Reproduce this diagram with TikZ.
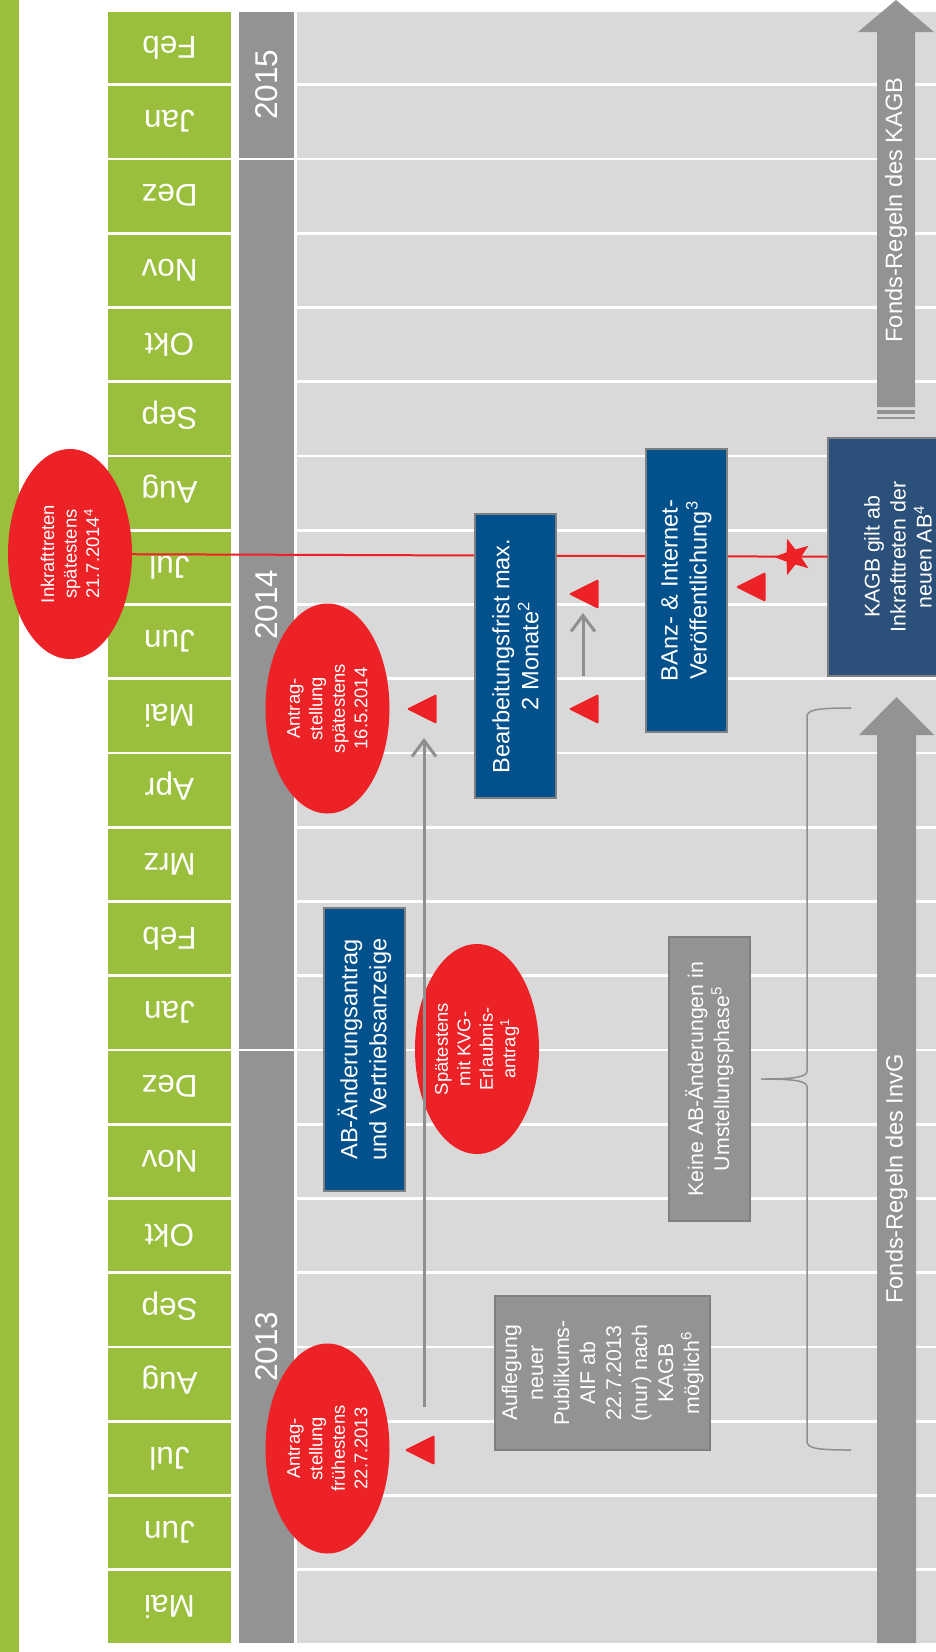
\documentclass[tikz,border=0pt]{standalone}
\usepackage{fontspec}
\setmainfont{Liberation Sans}
\usetikzlibrary{arrows.meta}
\usetikzlibrary{shapes.geometric}
\usepackage{xcolor}
\definecolor{gruen}{HTML}{9ABF3D}
\definecolor{jahrgrau}{HTML}{939393}
\definecolor{zeile}{HTML}{D9D9D9}
\definecolor{rot}{HTML}{EC2227}
\definecolor{blau}{HTML}{02508C}
\definecolor{kagbblau}{HTML}{2B507A}
\definecolor{rahmen}{HTML}{7F7F7F}
\definecolor{linie}{HTML}{8F8F8F}
\newcommand\smonat{\fontsize{31.5}{38}\selectfont}
\newcommand\sgross{\fontsize{23.6}{29}\selectfont}
\newcommand\sklein{\fontsize{21.3}{26}\selectfont}
\newcommand\soval{\fontsize{18.4}{22.5}\selectfont}

\begin{document}
\begin{tikzpicture}[x=1pt, y=-1pt,
 monat/.style={fill=gruen, text=white, rotate=180, minimum width=123pt, minimum height=71.5pt, inner sep=0pt, font=\smonat, text height=22.5pt, text depth=0pt},
 jahr/.style={fill=jahrgrau, text=white, rotate=90, minimum height=55pt, inner sep=0pt, font=\smonat, text height=22.5pt, text depth=0pt},
 oval/.style={ellipse, fill=rot, text=white, rotate=90, minimum width=210pt, minimum height=124pt, inner sep=0pt, align=center, font=\soval},
 kasten/.style={rectangle, draw=rahmen, line width=1.5pt, rotate=90, align=center, text=white, inner sep=0pt},
 dreieck/.style={isosceles triangle, isosceles triangle stretches, shape border rotate=180, minimum width=30pt, minimum height=30pt, inner sep=0pt, fill=rot, rounded corners=1.5pt, anchor=apex},
 stern/.style={star, star points=5, star point ratio=2.4, minimum size=38pt, inner sep=0pt, fill=rot, rotate=90},
 pfeil/.style={draw=linie, line width=3pt, -{Straight Barb[length=16pt,width=24pt]}},
 pfeiltext/.style={rotate=90, text=white, font=\sgross}]
\useasboundingbox (0,0) rectangle (936,1652);
\clip (0,0) rectangle (936,1652);
\fill[gruen] (0,0) rectangle (19,1652);
\foreach \i in {0,...,21}
 \fill[zeile] (297,{1642.5-74.24*\i}) rectangle (936,{1571-74.24*\i});
\foreach \m [count=\i from 0] in {Mai,Jun,Jul,Aug,Sep,Okt,Nov,Dez,Jan,Feb,Mrz,Apr,Mai,Jun,Jul,Aug,Sep,Okt,Nov,Dez,Jan,Feb}
 \node[monat] (m\i) at (169.5,{1606.75-74.24*\i}) {\m};
\foreach \jahr/\a/\b in {2013/0/7,2014/8/19,2015/20/21}
 \node[jahr, minimum width={74.24*(\b-\a)+71.5}] (j\jahr) at (266.5,{1606.75-37.12*(\a+\b)}) {\jahr};

\node[oval] (ink) at (70,554) {Inkrafttreten\\spätestens\\21.7.2014\textsuperscript{4}};
\node[kasten, fill=kagbblau, minimum width=238pt, minimum height=140pt, font=\sklein] (kagb) at (898,557) {KAGB gilt ab\\Inkrafttreten der\\neuen AB\textsuperscript{4}};
\draw[rot, line width=2pt] (ink) -- (kagb);

\node[kasten, fill=blau, minimum width=284pt, minimum height=81pt, font=\sgross] (bearb) at (515.5,656) {Bearbeitungsfrist max.\\2 Monate\textsuperscript{2}};
\node[kasten, fill=blau, minimum width=283pt, minimum height=81pt, font=\sgross] (banz) at (686.5,590.5) {BAnz- \& Internet-\\Veröffentlichung\textsuperscript{3}};
\node[kasten, fill=blau, minimum width=283pt, minimum height=81pt, font=\sgross] (abae) at (364.5,1049.5) {AB-Änderungsantrag\\und Vertriebsanzeige};
\node[kasten, fill=jahrgrau, minimum width=284pt, minimum height=81pt, font=\sklein] (keine) at (709.5,1079) {Keine AB-Änderungen in\\Umstellungsphase\textsuperscript{5}};
\node[kasten, fill=jahrgrau, minimum width=154pt, minimum height=215pt, font=\sklein] (aufl) at (602.5,1373) {Auflegung\\neuer\\Publikums-\\AIF ab\\22.7.2013\\(nur) nach\\KAGB\\möglich\textsuperscript{6}};

\node[oval] (antr1) at (327.5,1448.5) {Antrag-\\stellung\\frühestens\\22.7.2013};
\node[oval] (antr2) at (327.5,708.5) {Antrag-\\stellung\\spätestens\\16.5.2014};
\node[oval] (spaet) at (477,1049) {Spätestens\\mit KVG-\\Erlaubnis-\\antrag\textsuperscript{1}};

\foreach \n/\x/\y in {d1/404/1450,d2/406/709,d3/568/594,d4/568/709,d5/735/587}
 \node[dreieck] (\n) at (\x,\y) {};
\node[stern] (stern) at (793,557) {};

\coordinate (a1) at (424,1407);
\coordinate (a2) at (424,738);
\draw[pfeil] (a1) -- (a2);
\coordinate (b1) at (583,676);
\coordinate (b2) at (583,613);
\draw[pfeil] (b1) -- (b2);

\draw[linie, line width=1.5pt] (851,708) .. controls (815,708) and (807,710) .. (807,717) -- (807,1071) .. controls (807,1077) and (795,1079) .. (761,1079) .. controls (795,1079) and (807,1081) .. (807,1087) -- (807,1441) .. controls (807,1448) and (815,1450) .. (851,1450);

\fill[jahrgrau] (877,1643) -- (877,735) -- (859,735) -- (896.5,697) -- (934,735) -- (916,735) -- (916,1643) -- cycle;
\node[pfeiltext] (invg) at (896.5,1179) {Fonds-Regeln des InvG};
\fill[jahrgrau] (877,407) -- (877,32) -- (858,32) -- (896,0) -- (934,32) -- (915,32) -- (915,407) -- cycle;
\fill[jahrgrau] (877,410) rectangle (915,414);
\fill[jahrgrau] (877,416.5) rectangle (915,419);
\node[pfeiltext] (kagbtext) at (896,210) {Fonds-Regeln des KAGB};
\end{tikzpicture}
\end{document}
